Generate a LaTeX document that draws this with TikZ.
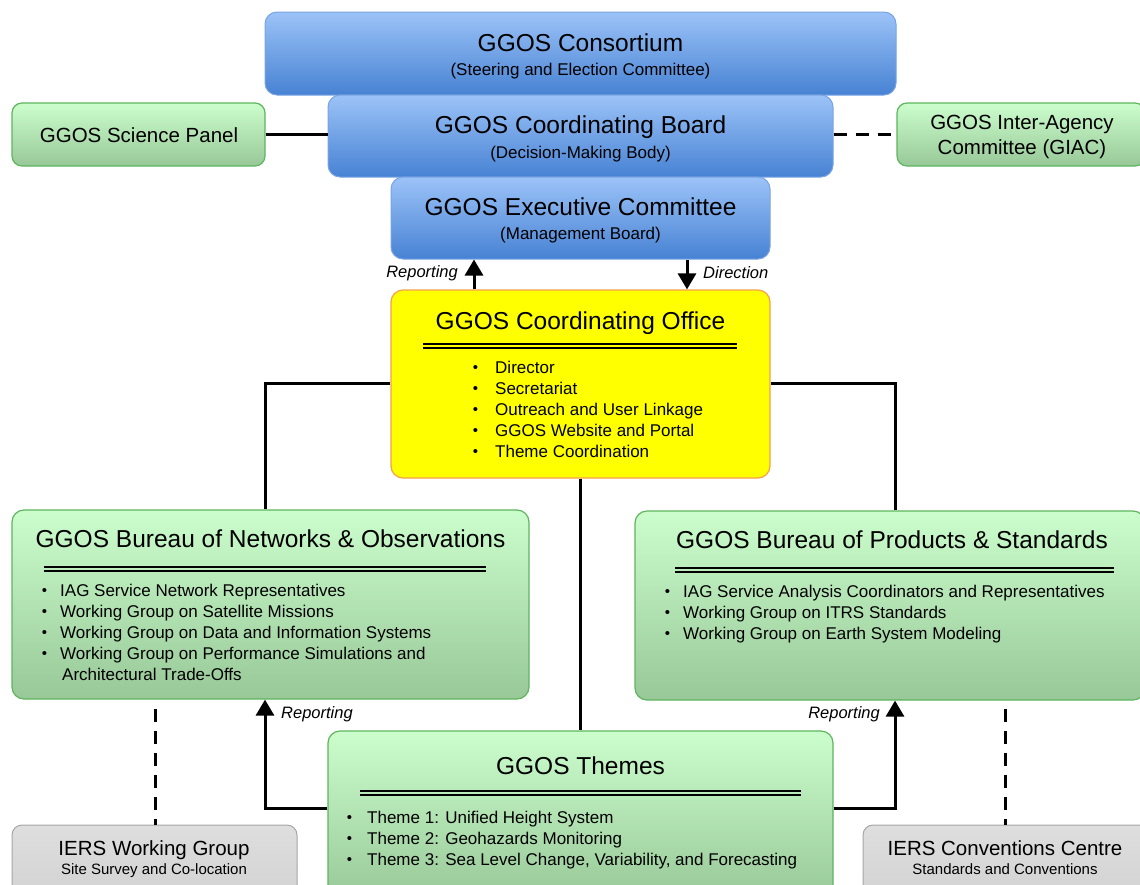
\documentclass[tikz,border=0pt]{standalone}
\usepackage{fontspec}
\setmainfont{Liberation Sans}
\usetikzlibrary{arrows.meta}
\definecolor{bluetop}{HTML}{9CC3F8}
\definecolor{bluebot}{HTML}{4782D3}
\definecolor{blueedge}{HTML}{79A3E2}
\definecolor{greentop}{HTML}{CCFDCC}
\definecolor{greenbot}{HTML}{98C898}
\definecolor{greenedge}{HTML}{5EB55E}
\definecolor{greytop}{HTML}{DEDEDE}
\definecolor{greybot}{HTML}{D2D2D2}
\definecolor{greyedge}{HTML}{A6A6A6}
\definecolor{officeedge}{HTML}{F2A04E}
\definecolor{officefill}{HTML}{FFFF00}
\newcommand\bul[1]{\makebox[0pt][r]{\raisebox{1pt}{\fontsize{15}{15}\selectfont\textbullet}\hspace{#1}}}
\begin{document}
\begin{tikzpicture}[x=1pt,y=-1pt,
  box/.style={rounded corners=12pt, inner sep=0pt, line width=1pt},
  bluebox/.style={box, draw=blueedge, top color=bluetop, bottom color=bluebot},
  greenbox/.style={box, draw=greenedge, line width=1.2pt, top color=greentop, bottom color=greenbot},
  greybox/.style={box, rounded corners=10pt, draw=greyedge, top color=greytop, bottom color=greybot},
  officebox/.style={box, draw=officeedge, line width=1.2pt, fill=officefill},
  tbig/.style={anchor=base, inner sep=0pt, font=\fontsize{24.5}{29}\selectfont},
  tsub/.style={anchor=base, inner sep=0pt, font=\fontsize{17}{20}\selectfont},
  tside/.style={anchor=base, inner sep=0pt, font=\fontsize{20.5}{25}\selectfont},
  tsmall/.style={anchor=base, inner sep=0pt, font=\fontsize{15}{18}\selectfont},
  item/.style={anchor=base west, inner sep=0pt, font=\fontsize{17}{20}\selectfont},
  lbl/.style={inner sep=0pt, font=\fontsize{16.5}{20}\selectfont\itshape},
  conn/.style={line width=3pt},
  dconn/.style={line width=3pt, dash pattern=on 13pt off 9pt},
  arr/.style={conn, -{Triangle[width=18pt,length=16pt]}},
  dbl/.style={line width=2pt}
]
\useasboundingbox (0,0) rectangle (1140,884);
\clip (0,0) rectangle (1140,884);

% ---- top blue stack ----
\node[bluebox, minimum width=631pt, minimum height=83pt] (cons) at (580.5,53.5) {};
\node[tbig] (consT) at (580.5,51.6) {GGOS Consortium};
\node[tsub] (consS) at (580.5,75) {(Steering and Election Committee)};

\node[bluebox, minimum width=505pt, minimum height=82pt] (board) at (580.5,136) {};
\node[tbig] (boardT) at (580.5,133.6) {GGOS Coordinating Board};
\node[tsub] (boardS) at (580.5,158) {(Decision-Making Body)};

\node[bluebox, minimum width=379pt, minimum height=82pt] (exec) at (580.5,218) {};
\node[tbig] (execT) at (580.5,215.6) {GGOS Executive Committee};
\node[tsub] (execS) at (580.5,239) {(Management Board)};

% ---- side boxes ----
\node[greenbox, rounded corners=10pt, minimum width=253pt, minimum height=63pt] (sci) at (138.5,134.5) {};
\node[tside] (sciT) at (139,142) {GGOS Science Panel};

\node[greenbox, rounded corners=10pt, minimum width=248pt, minimum height=63pt] (giac) at (1021,134.5) {};
\node[tside] (giacT1) at (1022,129.3) {GGOS Inter-Agency};
\node[tside] (giacT2) at (1022,154.3) {Committee (GIAC)};

% ---- coordinating office ----
\node[officebox, minimum width=379pt, minimum height=188pt] (office) at (580.5,384) {};
\node[tbig] (officeT) at (580.5,329.6) {GGOS Coordinating Office};
\draw[dbl] (423,344) -- (737,344);
\draw[line width=1.2pt] (423,348) -- (737,348);
\node[item] (o1) at (495,373) {\bul{17pt}Director};
\node[item] (o2) at (495,394) {\bul{17pt}Secretariat};
\node[item] (o3) at (495,415) {\bul{17pt}Outreach and User Linkage};
\node[item] (o4) at (495,436) {\bul{17pt}GGOS Website and Portal};
\node[item] (o5) at (495,457) {\bul{17pt}Theme Coordination};

% ---- bureau of networks ----
\node[greenbox, minimum width=517pt, minimum height=189pt] (netw) at (270.5,604.5) {};
\node[tbig] (netwT) at (270.5,547.6) {GGOS Bureau of Networks \& Observations};
\draw[dbl] (44,567) -- (486,567);
\draw[line width=1.2pt] (44,571) -- (486,571);
\node[item] (n1) at (60,596) {\bul{13pt}IAG Service Network Representatives};
\node[item] (n2) at (60,617) {\bul{13pt}Working Group on Satellite Missions};
\node[item] (n3) at (60,638) {\bul{13pt}Working Group on Data and Information Systems};
\node[item] (n4) at (60,659) {\bul{13pt}Working Group on Performance Simulations and};
\node[item] (n5) at (62,680) {Architectural Trade-Offs};

% ---- bureau of products ----
\node[greenbox, minimum width=510pt, minimum height=189pt] (prod) at (890,605.5) {};
\node[tbig] (prodT) at (892,548.6) {GGOS Bureau of Products \& Standards};
\draw[dbl] (675,568) -- (1114,568);
\draw[line width=1.2pt] (675,572) -- (1114,572);
\node[item] (p1) at (683,597) {\bul{13pt}IAG Service Analysis Coordinators and Representatives};
\node[item] (p2) at (683,618) {\bul{13pt}Working Group on ITRS Standards};
\node[item] (p3) at (683,639) {\bul{13pt}Working Group on Earth System Modeling};

% ---- themes ----
\node[greenbox, minimum width=505pt, minimum height=169pt] (themes) at (580.5,815.5) {};
\node[tbig] (themesT) at (580.5,774.6) {GGOS Themes};
\draw[dbl] (360,791) -- (801,791);
\draw[line width=1.2pt] (360,795) -- (801,795);
\node[item] (t1) at (367,823) {\bul{15pt}Theme 1: Unified Height System};
\node[item] (t2) at (367,844) {\bul{15pt}Theme 2: Geohazards Monitoring};
\node[item] (t3) at (367,865) {\bul{15pt}Theme 3: Sea Level Change, Variability, and Forecasting};

% ---- IERS boxes ----
\node[greybox, minimum width=285pt, minimum height=75pt] (iersw) at (154.5,862.5) {};
\node[tside] (ierswT) at (154,855.3) {IERS Working Group};
\node[tsmall] (ierswS) at (154,874) {Site Survey and Co-location};

\node[greybox, minimum width=287pt, minimum height=75pt] (iersc) at (1006.5,862.5) {};
\node[tside] (ierscT) at (1005,855.3) {IERS Conventions Centre};
\node[tsmall] (ierscS) at (1005,874) {Standards and Conventions};

% ---- connectors ----
\draw[conn] (sci.east) -- (sci.east -| board.west);
\draw[dconn] (board.east |- giac.west) -- (giac.west);

\coordinate (rx) at (474,0);
\coordinate (dx) at (687,0);
\draw[arr] (rx |- office.north) -- (rx |- exec.south);
\draw[arr] (dx |- exec.south) -- (dx |- office.north);
\node[lbl, anchor=east] (repT) at (458,273) {Reporting};
\node[lbl, anchor=west] (dirT) at (703,273) {Direction};

\coordinate (lx) at (265,383);
\coordinate (rxx) at (895,383);
\draw[conn] (office.west |- lx) -- (lx) -- (lx |- netw.north);
\draw[conn] (office.east |- rxx) -- (rxx) -- (rxx |- prod.north);
\draw[conn] (office.south) -- (themes.north);

\coordinate (tl) at (265,808);
\coordinate (tr) at (895,808);
\draw[arr] (themes.west |- tl) -- (tl) -- (tl |- netw.south);
\draw[arr] (themes.east |- tr) -- (tr) -- (tr |- prod.south);
\node[lbl, anchor=west] (repL) at (281,714) {Reporting};
\node[lbl, anchor=east] (repR) at (880,714) {Reporting};

\coordinate (dl) at (155,709);
\coordinate (dr) at (1005,709);
\draw[dconn] (dl) -- (dl |- iersw.north);
\draw[dconn] (dr) -- (dr |- iersc.north);
\end{tikzpicture}
\end{document}
